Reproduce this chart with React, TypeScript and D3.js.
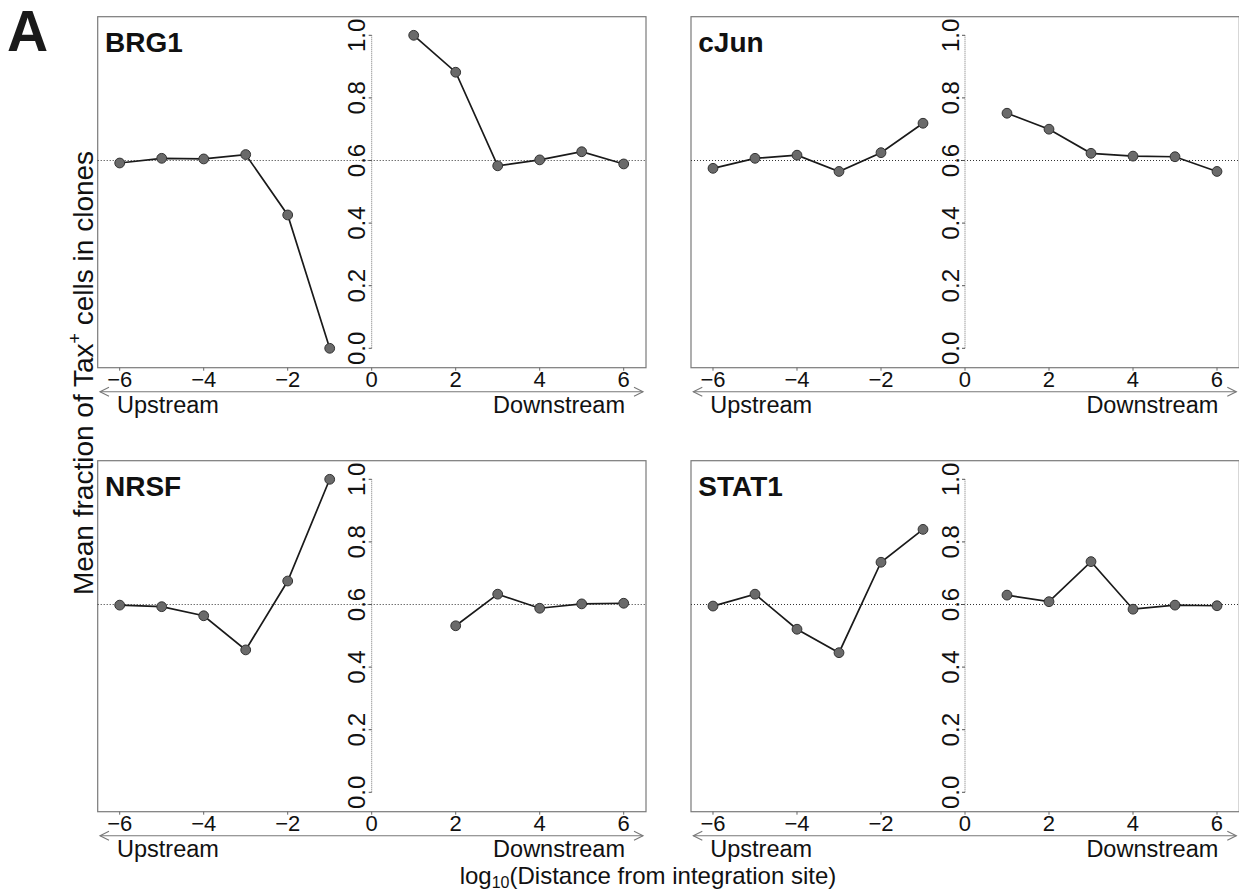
import React from "react";
import * as d3 from "d3";

const xUp = [-6, -5, -4, -3, -2, -1];
const xDown = [1, 2, 3, 4, 5, 6];
const xTicks = [-6, -4, -2, 0, 2, 4, 6];
const yTicks = [0, 0.2, 0.4, 0.6, 0.8, 1.0];
const refLine = 0.6;

const brg1Up = [0.592, 0.607, 0.605, 0.619, 0.426, 0.0];
const brg1Down = [1.0, 0.882, 0.583, 0.602, 0.628, 0.589];
const cjunUp = [0.575, 0.607, 0.617, 0.565, 0.625, 0.719];
const cjunDown = [0.751, 0.7, 0.623, 0.614, 0.612, 0.565];
const nrsfUp = [0.598, 0.593, 0.564, 0.455, 0.675, 1.0];
const nrsfDown: (number | null)[] = [null, 0.532, 0.633, 0.588, 0.602, 0.604];
const stat1Up = [0.595, 0.633, 0.521, 0.446, 0.735, 0.84];
const stat1Down = [0.63, 0.609, 0.737, 0.585, 0.598, 0.596];

const panelNames = ["BRG1", "cJun", "NRSF", "STAT1"];
const panelUp = [brg1Up, cjunUp, nrsfUp, stat1Up];
const panelDown = [brg1Down, cjunDown, nrsfDown, stat1Down];

const FONT = "'Liberation Sans', Arial, Helvetica, sans-serif";

const BOX = { left: 97.7, right: 646, top: 16.7, bottom: 367.7 };
const PANEL_DX = 593.3;
const PANEL_DY = 444;

const xScale = d3.scaleLinear().domain([-6, 6]).range([119.7, 623.7]);
const yScale = d3.scaleLinear().domain([0, 1]).range([348.3, 35.3]);

type Pt = { x: number; y: number | null };

function Series({ xs, ys }: { xs: number[]; ys: (number | null)[] }) {
  const pts: Pt[] = xs.map((x, i) => ({ x, y: ys[i] }));
  const line = d3
    .line<Pt>()
    .defined((d) => d.y !== null)
    .x((d) => xScale(d.x))
    .y((d) => yScale(d.y as number));
  return (
    <g>
      <path d={line(pts) || ""} fill="none" stroke="#1a1a1a" strokeWidth={1.7} />
      {pts
        .filter((p) => p.y !== null)
        .map((p, i) => (
          <circle
            key={i}
            cx={xScale(p.x)}
            cy={yScale(p.y as number)}
            r={4.9}
            fill="#6a6a6a"
            stroke="#333"
            strokeWidth={1}
          />
        ))}
    </g>
  );
}

function Panel({
  name,
  up,
  down,
  dx,
  dy,
}: {
  name: string;
  up: number[];
  down: (number | null)[];
  dx: number;
  dy: number;
}) {
  const x0 = xScale(0);
  const arrowY = 391.7;
  const aL = 100;
  const aR = 643;
  return (
    <g transform={`translate(${dx},${dy})`}>
      <rect
        x={BOX.left}
        y={BOX.top}
        width={BOX.right - BOX.left}
        height={BOX.bottom - BOX.top}
        fill="none"
        stroke="#7a7a7a"
        strokeWidth={1.2}
      />
      <line
        x1={BOX.left}
        x2={BOX.right}
        y1={yScale(refLine)}
        y2={yScale(refLine)}
        stroke="#333"
        strokeWidth={1}
        strokeDasharray="1,2"
      />
      {/* y axis at x = 0 */}
      <line
        x1={x0}
        x2={x0}
        y1={yScale(0)}
        y2={yScale(1)}
        stroke="#777"
        strokeWidth={1}
        strokeDasharray="1,1"
      />
      {yTicks.map((t) => (
        <g key={t}>
          <line x1={x0 - 3} x2={x0} y1={yScale(t)} y2={yScale(t)} stroke="#555" strokeWidth={1} />
          <text
            transform={`translate(${x0 - 6.5},${yScale(t)}) rotate(-90)`}
            textAnchor="middle"
            fontFamily={FONT}
            fontSize={24}
            fill="#111"
          >
            {t.toFixed(1)}
          </text>
        </g>
      ))}
      {/* x ticks */}
      {xTicks.map((t) => (
        <g key={t}>
          <line x1={xScale(t)} x2={xScale(t)} y1={BOX.bottom} y2={BOX.bottom + 3} stroke="#666" />
          <text
            x={xScale(t)}
            y={386.5}
            textAnchor="middle"
            fontFamily={FONT}
            fontSize={22}
            fill="#111"
          >
            {t < 0 ? `\u2212${Math.abs(t)}` : `${t}`}
          </text>
        </g>
      ))}
      {/* double arrow */}
      <line x1={aL} x2={aR} y1={arrowY} y2={arrowY} stroke="#777" strokeWidth={1.1} />
      <path
        d={`M${aL + 9},${arrowY - 4.5} L${aL},${arrowY} L${aL + 9},${arrowY + 4.5}`}
        fill="none"
        stroke="#777"
        strokeWidth={1.1}
      />
      <path
        d={`M${aR - 9},${arrowY - 4.5} L${aR},${arrowY} L${aR - 9},${arrowY + 4.5}`}
        fill="none"
        stroke="#777"
        strokeWidth={1.1}
      />
      <text x={117} y={413} fontFamily={FONT} fontSize={23.5} fill="#111">
        Upstream
      </text>
      <text x={625} y={413} textAnchor="end" fontFamily={FONT} fontSize={23.5} fill="#111">
        Downstream
      </text>
      <text x={105} y={52.3} fontFamily={FONT} fontSize={28} fontWeight="bold" fill="#111">
        {name}
      </text>
      <Series xs={xUp} ys={up} />
      <Series xs={xDown} ys={down} />
    </g>
  );
}

export default function App() {
  return (
    <div style={{ position: "absolute", left: 0, top: 0, width: 1239, height: 893, background: "#fff" }}>
      <svg width={1239} height={893} style={{ display: "block" }}>
        <rect width={1239} height={893} fill="#fff" />
        <text x={7} y={50.7} fontFamily={FONT} fontSize={57} fontWeight="bold" fill="#1a1a1a">
          A
        </text>
        {panelNames.map((n, i) => (
          <Panel
            key={n}
            name={n}
            up={panelUp[i]}
            down={panelDown[i]}
            dx={(i % 2) * PANEL_DX}
            dy={Math.floor(i / 2) * PANEL_DY}
          />
        ))}
        <text
          transform="translate(93,373) rotate(-90)"
          textAnchor="middle"
          fontFamily={FONT}
          fontSize={28}
          fill="#111"
        >
          Mean fraction of Tax
          <tspan dy={-12} fontSize={18}>+</tspan>
          <tspan dy={12}> cells in clones</tspan>
        </text>
        <text x={648} y={884} textAnchor="middle" fontFamily={FONT} fontSize={24} fill="#111">
          log
          <tspan dy={4} fontSize={16}>10</tspan>
          <tspan dy={-4}>(Distance from integration site)</tspan>
        </text>
      </svg>
    </div>
  );
}
